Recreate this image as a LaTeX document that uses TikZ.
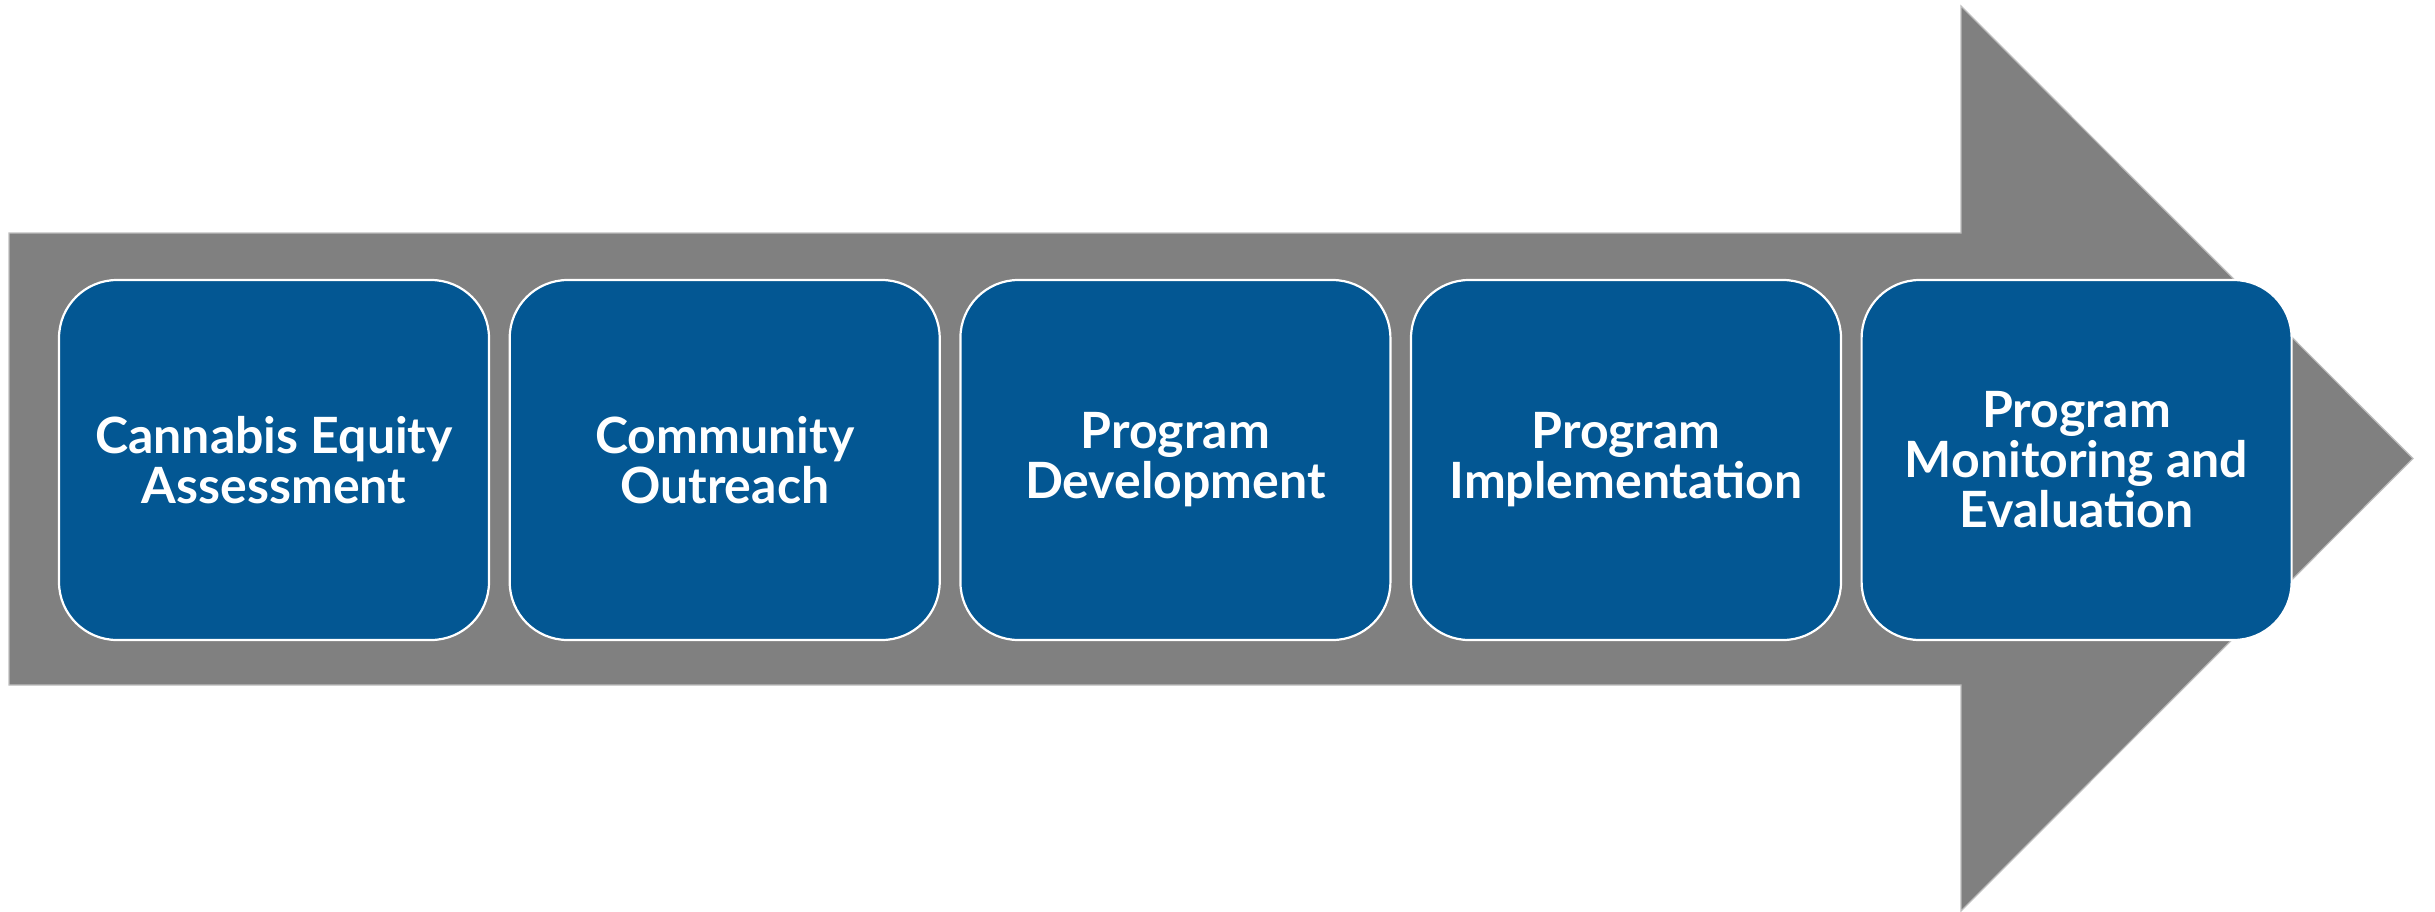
\documentclass[tikz,border=0pt]{standalone}
\usepackage{fontspec}
\setmainfont{Lato}
\definecolor{stepblue}{RGB}{3,87,147}
\definecolor{arrowgray}{RGB}{128,128,128}
\definecolor{edgegray}{RGB}{190,190,190}
\begin{document}
\begin{tikzpicture}[x=0.5pt,y=-0.5pt,
  stepbox/.style={draw=white, line width=1.1pt, fill=stepblue, rounded corners=29pt,
    minimum width=215pt, minimum height=180pt, inner sep=0pt, align=center,
    text=white, font=\fontsize{25}{25}\selectfont\bfseries}]
\useasboundingbox (0,0) rectangle (2435,911);
\fill[white] (0,0) rectangle (2435,911);
% big arrow
\draw[fill=arrowgray, draw=edgegray, line width=0.6pt]
  (9,233) -- (1961,233) -- (1961,6) -- (2413,458.5) -- (1961,911) -- (1961,685) -- (9,685) -- cycle;
% steps
\node[stepbox] (s1) at (274,460) {Cannabis Equity\\Assessment};
\node[stepbox] (s2) at (724.7,460) {Community\\Outreach};
\node[stepbox] (s3) at (1175.4,460) {Program\\Development};
\node[stepbox] (s4) at (1626,460) {Program\\Implementation};
\node[stepbox] (s5) at (2076.6,460) {Program\\Monitoring and\\Evaluation};
\end{tikzpicture}
\end{document}
